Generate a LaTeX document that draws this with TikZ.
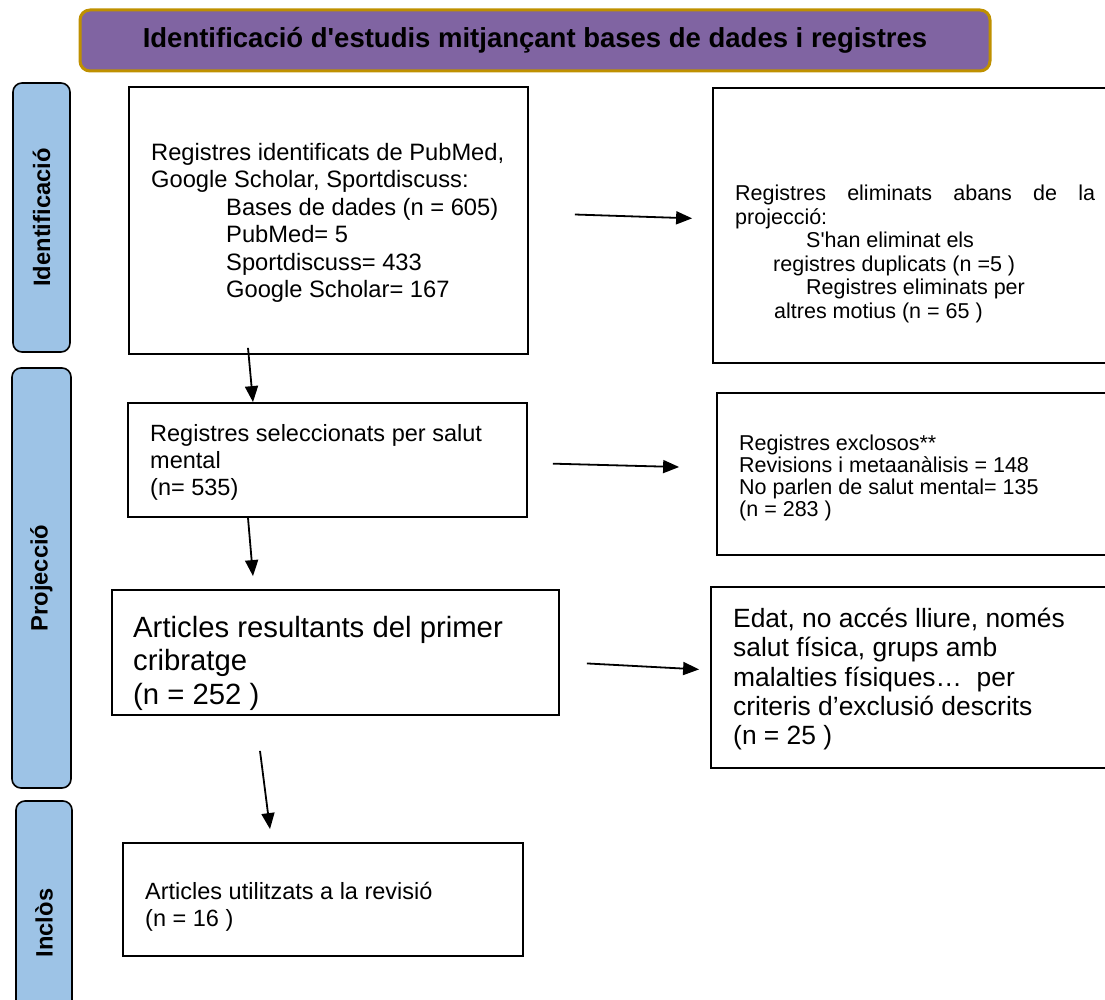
\documentclass[tikz,border=0pt]{standalone}
\usepackage{fontspec}
\setmainfont{Liberation Sans}
\usetikzlibrary{arrows.meta}

\definecolor{hdrfill}{HTML}{8064A2}
\definecolor{hdrline}{HTML}{BF9000}
\definecolor{sidefill}{HTML}{9DC3E6}

\begin{document}
\begin{tikzpicture}[x=1pt, y=-1pt,
    hdr/.style={draw=hdrline, line width=3pt, fill=hdrfill, rounded corners=10pt,
                minimum width=910pt, minimum height=61pt,
                font=\fontsize{27.5}{31}\selectfont\bfseries},
    side/.style={draw, line width=1.6pt, fill=sidefill, rounded corners=9pt, rotate=90,
                 font=\fontsize{23.7}{27}\selectfont\bfseries},
    box/.style={draw, line width=1.8pt, inner sep=0pt},
    txt/.style={anchor=north west, align=left, inner sep=0pt,
                font=\fontsize{23.5}{27}\selectfont},
    flow/.style={-{Triangle[length=16pt, width=13pt]}, line width=1.8pt},
]
    \useasboundingbox (0,0) rectangle (1105,1000);
    \clip (0,0) rectangle (1105,1000);

    \node[hdr] (title) at (535,40.5)
        {Identificació d\textquotesingle estudis mitjançant bases de dades i registres};

    \node[side, minimum width=269pt, minimum height=57pt] (sid) at (41.5,217.5) {Identificació};
    \node[side, minimum width=420pt, minimum height=59pt] (spro) at (41.5,578) {Projecció};
    \node[side, minimum width=244pt, minimum height=56pt] (sinc) at (44,923) {Inclòs};

    \node[box, minimum width=399pt, minimum height=267pt] (idbox) at (328.5,220.5) {};
    \node[box, minimum width=402pt, minimum height=275pt] (rmbox) at (914,225.5) {};
    \node[box, minimum width=399pt, minimum height=114pt] (selbox) at (327.5,460) {};
    \node[box, minimum width=398pt, minimum height=162pt] (exbox) at (916,474) {};
    \node[box, minimum width=447pt, minimum height=125pt] (cribbox) at (335.5,652.5) {};
    \node[box, minimum width=404pt, minimum height=181pt] (critbox) at (913,677.5) {};
    \node[box, minimum width=400pt, minimum height=113pt] (incbox) at (323,899.5) {};

    \node[txt, font=\fontsize{23.7}{27.5}\selectfont] (idtxt) at (151,143) {Registres identificats de PubMed,\\
        Google Scholar, Sportdiscuss:\\
        \hspace*{75pt}Bases de dades (n = 605)\\
        \hspace*{75pt}PubMed= 5\\
        \hspace*{75pt}Sportdiscuss= 433\\
        \hspace*{75pt}Google Scholar= 167};
    \node[txt, font=\fontsize{21.5}{23.5}\selectfont] (rmtxt) at (735,185) {\makebox[360pt][s]{Registres\hfill eliminats\hfill abans\hfill de\hfill la}\\
        projecció:\\
        \hspace*{71pt}S\textquotesingle han eliminat els\\
        \hspace*{38pt}registres duplicats (n =5 )\\
        \hspace*{71pt}Registres eliminats per\\
        \hspace*{39pt}altres motius (n = 65 )};
    \node[txt] (seltxt) at (150,424) {Registres seleccionats per salut\\
        mental\\
        (n= 535)};
    \node[txt, font=\fontsize{21.5}{22}\selectfont] (extxt) at (739,434.5) {Registres exclosos**\\
        Revisions i metaanàlisis = 148\\
        No parlen de salut mental= 135\\
        (n = 283 )};
    \node[txt, font=\fontsize{29.3}{33.5}\selectfont] (cribtxt) at (133,616) {Articles resultants del primer\\
        cribratge\\
        (n = 252 )};
    \node[txt, font=\fontsize{26.4}{29.3}\selectfont] (crittxt) at (733,608) {Edat, no accés lliure, només\\
        salut física, grups amb\\
        malalties físiques…\ \ per\\
        criteris d’exclusió descrits\\
        (n = 25 )};
    \node[txt] (inctxt) at (145,882) {Articles utilitzats a la revisió\\
        (n = 16 )};

    \draw[flow, shorten <=46pt, shorten >=20pt] ([yshift=7.5pt]idbox.east) -- ([yshift=6.5pt]rmbox.west);
    \draw[flow, shorten <=25pt, shorten >=37pt] ([yshift=-3pt]selbox.east) -- ([yshift=6pt]exbox.west);
    \draw[flow, shorten <=27pt, shorten >=11pt] ([yshift=-9.5pt]cribbox.east) -- ([yshift=7.5pt]critbox.west);

    \draw[flow] ([xshift=-80.5pt, yshift=7pt]idbox.south) -- ([xshift=-74.5pt]selbox.north);
    \draw[flow] ([xshift=-79.5pt]selbox.south) -- ([xshift=-82.5pt, yshift=13pt]cribbox.north);
    \draw[flow] ([xshift=-75.5pt, yshift=-35pt]cribbox.south) -- ([xshift=-53pt, yshift=13pt]incbox.north);

\end{tikzpicture}
\end{document}
